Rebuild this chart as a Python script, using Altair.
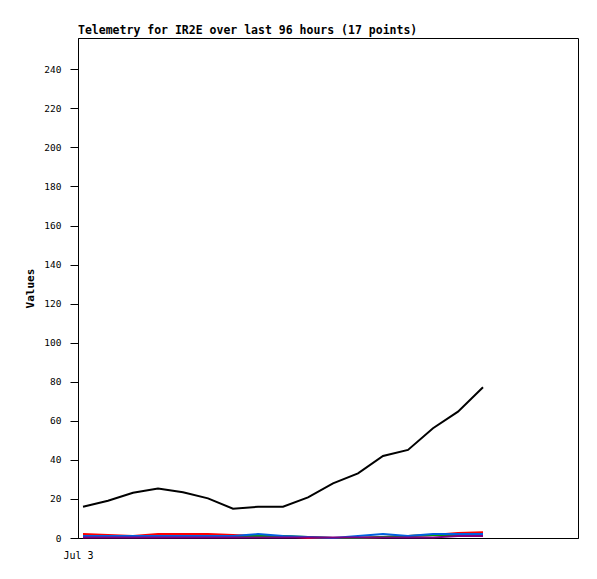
import altair as alt
import pandas as pd

idx = list(range(17))
black = [16.0, 19.1, 23.2, 25.4, 23.4, 20.3, 15.0, 16.0, 16.0, 20.8, 28.0, 33.1, 42.0, 45.1, 56.2, 64.7, 77.2]
red = [2, 1.5, 1, 2, 2, 2, 1.5, 1, 1, 0, 0, 0, 0.5, 1, 1.5, 2.5, 3]
green = [0.5, 0.5, 0.5, 0.5, 1, 1, 1, 1, 1, 0.5, 0, 0, 0.5, 1, 1.5, 1.5, 1.5]
blue = [1, 1, 1, 1, 1, 1, 1, 2, 1, 0.5, 0, 1, 2, 1, 2, 2, 2]
purple = [0.3, 0.3, 0.3, 0.3, 0.3, 0.3, 0.3, 0.3, 0.3, 0.2, 0.2, 0.3, 0.3, 0.3, 0.3, 1, 1]

series = [("a_red", red), ("b_green", green), ("c_blue", blue), ("d_purple", purple), ("e_black", black)]
rows = []
for name, vals in series:
    for i, v in zip(idx, vals):
        rows.append({"i": i, "v": v, "s": name})
df = pd.DataFrame(rows)

colors = ["#ff0000", "#00a000", "#0060e0", "#800080", "#000000"]

chart = alt.Chart(df).mark_line(strokeWidth=2, interpolate="linear").encode(
    x=alt.X("i:Q", scale=alt.Scale(domain=[-0.2, 19.8], nice=False, zero=False),
            axis=alt.Axis(values=[-0.2], labelExpr="'Jul 3'", ticks=False, title=None,
                          grid=False, domain=True, labelPadding=12, labelAlign="center",
                          labelFlush=False,
                          labelFont="DejaVu Sans Mono", labelFontSize=10, labelColor="black",
                          domainColor="black")),
    y=alt.Y("v:Q", scale=alt.Scale(domain=[0, 256], nice=False),
            axis=alt.Axis(values=list(range(0, 241, 20)), title="Values", grid=False,
                          tickSize=8, tickColor="black", domainColor="black",
                          labelPadding=9, labelFont="DejaVu Sans Mono", labelFontSize=9.5,
                          labelColor="black", titleFont="DejaVu Sans Mono",
                          titleFontSize=11, titleFontWeight="bold", titlePadding=8,
                          titleColor="black")),
    color=alt.Color("s:N", scale=alt.Scale(domain=[s for s, _ in series], range=colors), legend=None),
    order=alt.Order("s:N"),
).properties(
    width=500, height=500,
    title=alt.TitleParams("Telemetry for IR2E over last 96 hours (17 points)", anchor="start",
                          frame="group",
                          font="DejaVu Sans Mono", fontSize=11.5, fontWeight="bold",
                          color="black", offset=2),
    padding={"left": 70, "top": 30, "right": 11, "bottom": 33},
    autosize="none",
).configure_view(stroke="black", strokeWidth=1)

chart.save("out.html", embed_options={"renderer": "svg", "actions": False})
